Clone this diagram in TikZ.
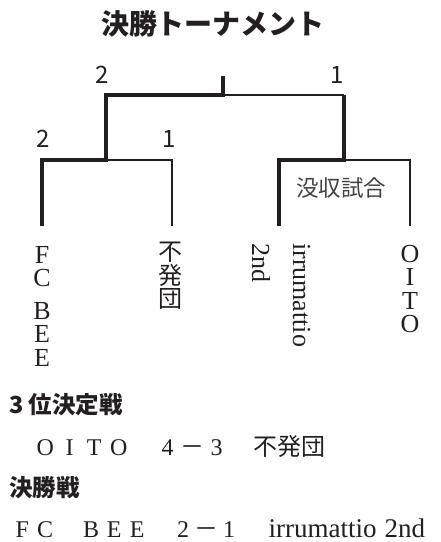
\documentclass[tikz,border=0pt]{standalone}
\usepackage{fontspec}
\setmainfont{Liberation Serif}
\newfontfamily\cjk{Noto Sans CJK JP}
\definecolor{ink}{HTML}{231F20}
\newlength\fwpitch
\newcommand\fw[1]{\makebox[\fwpitch][c]{#1}}
\tikzset{
  win/.style={line width=3.2pt, draw=ink, line join=miter},
  lose/.style={line width=1.2pt, draw=ink},
  score/.style={font=\cjk\fontsize{24}{26}\selectfont, text=ink, inner sep=0pt},
  team/.style={font=\fontsize{26}{23.5}\selectfont, text=ink, inner sep=0pt, align=center},
  teamj/.style={font=\cjk\fontsize{24}{23.5}\selectfont, text=ink, inner sep=0pt, align=center},
  heading/.style={font=\cjk\bfseries\fontsize{23.5}{26}\selectfont, text=ink, inner sep=0pt, anchor=west},
}
\begin{document}
\begin{tikzpicture}[x=1pt,y=-1pt]
\useasboundingbox (0,0) rectangle (441,542);
\node[font=\cjk\bfseries\fontsize{28}{30}\selectfont, text=ink, inner sep=0pt] (title) at (213,24) {決勝トーナメント};
% bracket points
\coordinate (top) at (223,76);
\coordinate (fin) at (223,95);
\coordinate (sl) at (106,95);
\coordinate (sr) at (344,95);
\coordinate (sl2) at (106,160);
\coordinate (sr2) at (344,160);
\coordinate (a1) at (42,160);
\coordinate (a2) at (42,226);
\coordinate (b1) at (172,160);
\coordinate (b2) at (172,226);
\coordinate (c1) at (279,160);
\coordinate (c2) at (279,226);
\coordinate (d1) at (410,160);
\coordinate (d2) at (410,226);
\draw[lose] (fin) -- (sr);
\draw[lose] (sl2) -- (b1) -- (b2);
\draw[lose] (sr2) -- (d1) -- (d2);
\draw[win] (top) -- (fin) -- (sl) -- (sl2) -- (a1) -- (a2);
\draw[win] (sr) -- (sr2) -- (c1) -- (c2);
% scores
\node[score] (s1) at (102,75) {2};
\node[score] (s2) at (337,75) {1};
\node[score] (s3) at (43,139) {2};
\node[score] (s4) at (169,139) {1};
\node[font=\cjk\fontsize{22.5}{24}\selectfont, text=ink!85, inner sep=0pt] (forfeit) at (341,188) {没収試合};
% teams
\node[team, anchor=north] (fcbee) at (42,246) {F\\C\\[9pt]B\\E\\E};
\node[teamj, anchor=north] (fuhatsu) at (170,242) {不\\発\\団};
\node[team, rotate=-90, anchor=base west] (second) at (252,243) {2nd};
\node[team, rotate=-90, anchor=base west] (irru) at (293,243) {irrumattio};
\node[team, anchor=north] (oito) at (410,245) {O\\I\\T\\O};
% results
\node[heading] (h3) at (9,405) {3 位決定戦};
\setlength\fwpitch{24.5pt}
\node[inner sep=0pt, anchor=base west, text=ink, font=\fontsize{24}{26}\selectfont] (r3) at (32.75,455)
  {\fw{O}\fw{I}\fw{T}\fw{O}\fw{}\fw{4}\fw{\cjk －}\fw{3}\fw{}{\cjk 不発団}};
\node[heading] (hf) at (9,488) {決勝戦};
\setlength\fwpitch{23pt}
\node[inner sep=0pt, anchor=base west, text=ink, font=\fontsize{24}{26}\selectfont] (rf) at (10.5,537)
  {\fw{F}\fw{C}\fw{}\fw{B}\fw{E}\fw{E}\fw{}\fw{2}\fw{\cjk －}\fw{1}\fw{}\hspace{5pt}{\fontsize{27}{28}\selectfont irrumattio\hspace{8pt}2nd}};
\end{tikzpicture}
\end{document}
